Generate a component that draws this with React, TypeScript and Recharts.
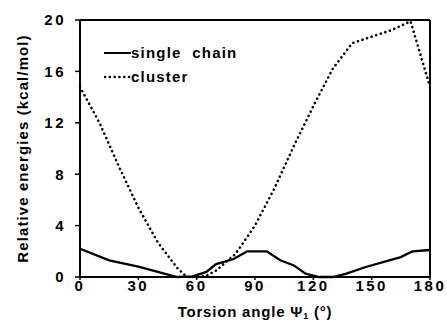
import React from 'react';
import { LineChart, Line, XAxis, YAxis, Legend, Label } from 'recharts';

// single chain (solid)
const singleAngles = [0, 15, 30, 50, 58, 65, 70, 79, 86, 96, 103, 110, 116, 123, 130, 137, 147, 159, 165, 171, 180];
const singleEnergies = [2.2, 1.3, 0.8, 0, 0.05, 0.4, 1.0, 1.4, 2.0, 2.0, 1.3, 0.9, 0.26, 0, 0, 0.26, 0.78, 1.3, 1.55, 2.0, 2.1];

// cluster (dotted)
const clusterAngles = [0, 10, 20, 30, 40, 50, 55, 60, 65, 70, 80, 90, 100, 110, 120, 130, 140, 150, 160, 170, 180];
const clusterEnergies = [14.8, 12.0, 8.6, 5.4, 2.7, 0.7, 0, 0, 0.1, 0.5, 1.8, 4.0, 6.9, 10.2, 13.3, 16.2, 18.2, 18.7, 19.2, 19.9, 14.8];

const xTicks = [0, 30, 60, 90, 120, 150, 180];
const yTicks = [0, 4, 8, 12, 16, 20];

const singleData = singleAngles.map((a, i) => ({ angle: a, energy: singleEnergies[i] }));
const clusterData = clusterAngles.map((a, i) => ({ angle: a, energy: clusterEnergies[i] }));

const FONT = '"Liberation Sans", Arial, sans-serif';
const tickStyle = { fontSize: 15, fontWeight: 'bold', fill: '#000', fontFamily: FONT, letterSpacing: 2.5 };
const axisLine = { stroke: '#000', strokeWidth: 2 };

const LegendBox = () => (
  <div style={{ fontFamily: FONT, fontWeight: 'bold', fontSize: 15, letterSpacing: 1.2, color: '#000', lineHeight: '24px' }}>
    <div style={{ display: 'flex', alignItems: 'center' }}>
      <svg width={27} height={10}><line x1={0} y1={5} x2={27} y2={5} stroke="#000" strokeWidth={2} /></svg>
      <span>single&nbsp; chain</span>
    </div>
    <div style={{ display: 'flex', alignItems: 'center' }}>
      <svg width={27} height={10}><line x1={1} y1={5} x2={27} y2={5} stroke="#000" strokeWidth={2.6} strokeDasharray="0.1 4.7" strokeLinecap="round" /></svg>
      <span>cluster</span>
    </div>
  </div>
);

const XTitle = (props: any) => {
  const vb = props.viewBox;
  return (
    <text x={vb.x + vb.width / 2} y={vb.y + 40} textAnchor="middle" fontFamily={FONT} fontWeight="bold" fontSize={15} letterSpacing={0.8} fill="#000">
      Torsion angle  Ψ<tspan fontSize={9} dy={2}>1</tspan><tspan dy={-2}> (°)</tspan>
    </text>
  );
};

const App = () => (
  <div style={{ position: 'absolute', left: 0, top: 0, background: '#fff' }}>
    <LineChart width={447} height={322} margin={{ top: 0, right: 0, bottom: 0, left: 0 }}>
      <XAxis dataKey="angle" type="number" domain={[0, 180]} ticks={xTicks} height={45}
        allowDuplicatedCategory={false}
        axisLine={axisLine} tickLine={{ stroke: '#000', strokeWidth: 1.5 }} tickSize={3} tickMargin={0}
        tick={tickStyle} interval={0}>
        <Label content={<XTitle />} />
      </XAxis>
      <XAxis xAxisId="top" orientation="top" dataKey="angle" type="number" domain={[0, 180]} ticks={xTicks} height={20}
        axisLine={axisLine} tickLine={{ stroke: '#000', strokeWidth: 1.5 }} tickSize={4} tick={false} />
      <YAxis type="number" domain={[0, 20]} ticks={yTicks} width={80} interval={0}
        axisLine={axisLine} tickLine={{ stroke: '#000', strokeWidth: 1.5 }} tickSize={5} tickMargin={9}
        tick={tickStyle}>
        <Label value="Relative energies (kcal/mol)" angle={-90} position="center" dx={-17}
          style={{ fontFamily: FONT, fontWeight: 'bold', fontSize: 15, fill: '#000', letterSpacing: 1.1 }} />
      </YAxis>
      <YAxis yAxisId="right" orientation="right" type="number" domain={[0, 20]} ticks={yTicks} width={17}
        axisLine={axisLine} tickLine={{ stroke: '#000', strokeWidth: 1.5 }} tickSize={4} tick={false} />
      <Legend content={<LegendBox />} layout="horizontal" verticalAlign="middle" align="center"
        wrapperStyle={{ top: 41, left: 104, width: 'auto' }} />
      <Line data={singleData} dataKey="energy" type="linear" stroke="#000" strokeWidth={2.3} dot={false}
        isAnimationActive={false} legendType="none" />
      <Line data={clusterData} dataKey="energy" type="linear" stroke="#000" strokeWidth={2.6}
        strokeDasharray="0.1 4.7" strokeLinecap="round" dot={false} isAnimationActive={false} legendType="none" />
    </LineChart>
  </div>
);

export default App;
